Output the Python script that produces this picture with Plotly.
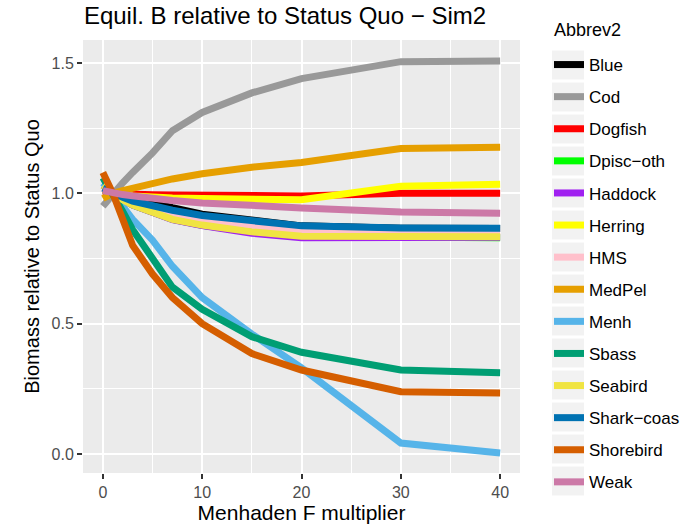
import plotly.graph_objects as go

x_mult = [0, 1, 2, 3, 5, 7, 10, 15, 20, 30, 40]

species = ["Blue", "Cod", "Dogfish", "Dpisc\u2212oth", "Haddock", "Herring", "HMS",
           "MedPel", "Menh", "Sbass", "Seabird", "Shark\u2212coas", "Shorebird", "Weak"]

colors = ["#000000", "#999999", "#FF0000", "#00FF00", "#A020F0", "#FFFF00", "#FFC0CB",
          "#E69F00", "#56B4E9", "#009E73", "#F0E442", "#0072B2", "#D55E00", "#CC79A7"]

blue = [1.01, 1.0, 0.99, 0.98, 0.96, 0.945, 0.92, 0.895, 0.875, 0.866, 0.865]
cod = [0.95, 1.0, 1.04, 1.08, 1.155, 1.24, 1.31, 1.385, 1.44, 1.505, 1.507]
dogfish = [1.0, 1.0, 0.998, 0.996, 0.994, 0.993, 0.992, 0.99, 0.99, 1.0, 1.0]
dpisc_oth = [1.03, 1.0, 0.975, 0.955, 0.925, 0.9, 0.877, 0.851, 0.834, 0.831, 0.829]
haddock = [1.03, 1.0, 0.975, 0.955, 0.924, 0.899, 0.876, 0.847, 0.829, 0.83, 0.831]
herring = [1.01, 1.0, 0.995, 0.99, 0.985, 0.982, 0.98, 0.976, 0.975, 1.027, 1.035]
hms = [1.02, 1.0, 0.98, 0.965, 0.94, 0.92, 0.9, 0.875, 0.855, 0.85, 0.848]
medpel = [0.98, 1.0, 1.01, 1.02, 1.04, 1.055, 1.075, 1.10, 1.118, 1.172, 1.177]
menh = [1.04, 1.0, 0.95, 0.90, 0.82, 0.72, 0.60, 0.46, 0.33, 0.042, 0.004]
sbass = [1.06, 1.0, 0.93, 0.86, 0.75, 0.64, 0.555, 0.45, 0.39, 0.322, 0.312]
seabird = [1.03, 1.0, 0.975, 0.955, 0.925, 0.9, 0.878, 0.852, 0.835, 0.833, 0.833]
shark_coas = [1.02, 1.0, 0.985, 0.97, 0.95, 0.935, 0.915, 0.895, 0.875, 0.867, 0.866]
shorebird = [1.08, 1.0, 0.90, 0.80, 0.69, 0.60, 0.50, 0.385, 0.322, 0.239, 0.234]
weak = [1.01, 1.0, 0.995, 0.99, 0.98, 0.972, 0.963, 0.952, 0.944, 0.928, 0.923]

series = [blue, cod, dogfish, dpisc_oth, haddock, herring, hms,
          medpel, menh, sbass, seabird, shark_coas, shorebird, weak]

legend_title = "Abbrev2"

# layout geometry (pixels)
W, H = 699, 527
ML, MR, MT, MB = 83, 179, 40, 54
PW, PH = W - ML - MR, H - MT - MB

def px_x(p):
    return (p - ML) / PW

def px_y(p):
    return (H - MB - p) / PH

fig = go.Figure()
for name, col, ys in zip(species, colors, series):
    fig.add_trace(go.Scatter(x=x_mult, y=ys, mode="lines", name=name,
                             legendgroup=name,
                             line=dict(color=col, width=7)))

# grey legend key backgrounds
shapes = []
for i in range(len(species)):
    c = 65 + 32 * i
    shapes.append(dict(type="rect", xref="paper", yref="paper",
                       x0=px_x(552), x1=px_x(584), y0=px_y(c + 14.5), y1=px_y(c - 14.5),
                       fillcolor="#F2F2F2", line=dict(width=0), layer="above"))

fig.update_layout(
    width=W, height=H,
    margin=dict(l=ML, r=MR, t=MT, b=MB),
    paper_bgcolor="white", plot_bgcolor="#EBEBEB",
    font=dict(family="Liberation Sans, Arial, sans-serif", color="#1A1A1A"),
    title=dict(text="Equil. B relative to Status Quo \u2212 Sim2", xref="container", x=285 / W,
               xanchor="center", y=1 - 16 / H, yanchor="middle", font=dict(size=24, color="#000000")),
    legend=dict(font=dict(size=17, color="#000000"), x=px_x(549), xanchor="left",
                y=px_y(47), yanchor="top", tracegroupgap=7, bgcolor="rgba(0,0,0,0)",
                maxheight=520),
    annotations=[dict(text=legend_title, xref="paper", yref="paper", x=px_x(552), y=px_y(30),
                      xanchor="left", yanchor="middle", showarrow=False,
                      font=dict(size=18, color="#000000"))],
    shapes=shapes,
    showlegend=True,
)
fig.update_xaxes(range=[-2, 42], tickvals=[0, 10, 20, 30, 40], ticks="outside", ticklen=5,
                 tickwidth=2, tickcolor="#333333", showgrid=True, gridcolor="white", gridwidth=1.6,
                 minor=dict(tickvals=[5, 15, 25, 35], showgrid=True, gridcolor="white", gridwidth=0.7),
                 zeroline=False, tickfont=dict(size=16, color="#4D4D4D"), automargin=False,
                 title=dict(text="Menhaden F multiplier", font=dict(size=21, color="#000000"), standoff=2))
fig.update_yaxes(range=[-0.0730, 1.588], tickvals=[0, 0.5, 1.0, 1.5], tickformat=".1f", ticks="outside",
                 ticklen=5, tickwidth=2, tickcolor="#333333", showgrid=True, gridcolor="white",
                 gridwidth=1.6,
                 minor=dict(tickvals=[0.25, 0.75, 1.25], showgrid=True, gridcolor="white", gridwidth=0.7),
                 zeroline=False, tickfont=dict(size=16, color="#4D4D4D"), automargin=False,
                 title=dict(text="Biomass relative to Status Quo", font=dict(size=20, color="#000000"), standoff=6))

fig.write_html("out.html", config={"displayModeBar": False},
               post_script="document.body.style.margin='0px';document.body.style.overflow='hidden';")
